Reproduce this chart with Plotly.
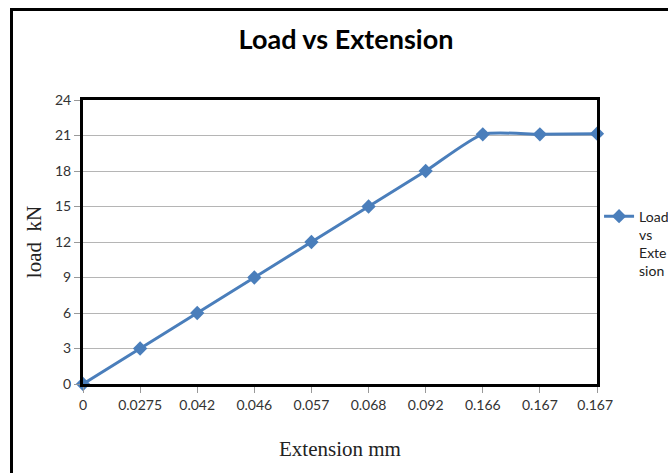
import plotly.graph_objects as go

categories = ["0", "0.0275", "0.042", "0.046", "0.057", "0.068", "0.092", "0.166", "0.167", "0.167 "]
load_kn = [0, 3, 6, 9, 12, 15, 18, 21.1, 21.1, 21.15]
y_ticks = [0, 3, 6, 9, 12, 15, 18, 21, 24]

idx = list(range(len(categories)))

W, H = 668, 473
L, T = 83, 100
R_PIX, B_PIX = 597, 384
PW, PH = R_PIX - L, B_PIX - T

fig = go.Figure()
fig.add_trace(go.Scatter(
    x=idx, y=load_kn, mode="lines+markers",
    name="Load<br>vs<br>Exte<br>sion",
    line=dict(color="#4A7EBB", width=3, shape="spline", smoothing=0.6),
    marker=dict(symbol="diamond", size=11, color="#4A7EBB"),
    cliponaxis=False,
))

fig.update_layout(
    width=W, height=H,
    margin=dict(l=L, r=W - R_PIX, t=T, b=H - B_PIX, autoexpand=False),
    paper_bgcolor="white", plot_bgcolor="white",
    title=dict(text="<b>Load vs Extension</b>", x=346 / W, xanchor="center",
               y=1 - 40 / H, yanchor="middle",
               font=dict(family="Lato, Open Sans, sans-serif", size=27, color="black")),
    showlegend=True,
    legend=dict(x=1.004, xanchor="left", y=0.646, yanchor="top", valign="top",
                font=dict(family="Lato, sans-serif", size=14, color="#222"),
                bgcolor="rgba(0,0,0,0)", itemwidth=30, tracegroupgap=0),
    xaxis=dict(range=[0, 9], tickmode="array", tickvals=idx, ticktext=categories,
               showgrid=False, zeroline=False,
               showline=True, linecolor="black", linewidth=3, mirror=True,
               ticks="outside", ticklen=6, tickcolor="#999",
               tickfont=dict(family="Lato, sans-serif", size=14, color="#333"),
               title=dict(text="Extension mm", standoff=30,
                          font=dict(family="Liberation Serif, serif", size=21, color="#222"))),
    yaxis=dict(range=[0, 24], tickmode="array", tickvals=y_ticks,
               showgrid=True, gridcolor="#b5b5b5", gridwidth=1, zeroline=False,
               showline=True, linecolor="black", linewidth=3, mirror=True,
               ticks="outside", ticklen=6, tickcolor="#999",
               tickfont=dict(family="Lato, sans-serif", size=14, color="#333"),
               title=dict(text="load  kN", standoff=8,
                          font=dict(family="Liberation Serif, serif", size=21, color="#222"))),
    shapes=[
        dict(type="line", xref="paper", yref="paper",
             x0=(11.5 - L) / PW, x1=(11.5 - L) / PW,
             y0=(B_PIX - 9.5) / PH, y1=(B_PIX - 480) / PH,
             line=dict(color="black", width=3)),
        dict(type="line", xref="paper", yref="paper",
             x0=(10 - L) / PW, x1=(680 - L) / PW,
             y0=(B_PIX - 9.5) / PH, y1=(B_PIX - 9.5) / PH,
             line=dict(color="black", width=3)),
    ],
)

fig.write_html(
    "out.html",
    config={"displayModeBar": False},
    post_script="document.body.style.margin='0';document.body.style.overflow='hidden';",
)
